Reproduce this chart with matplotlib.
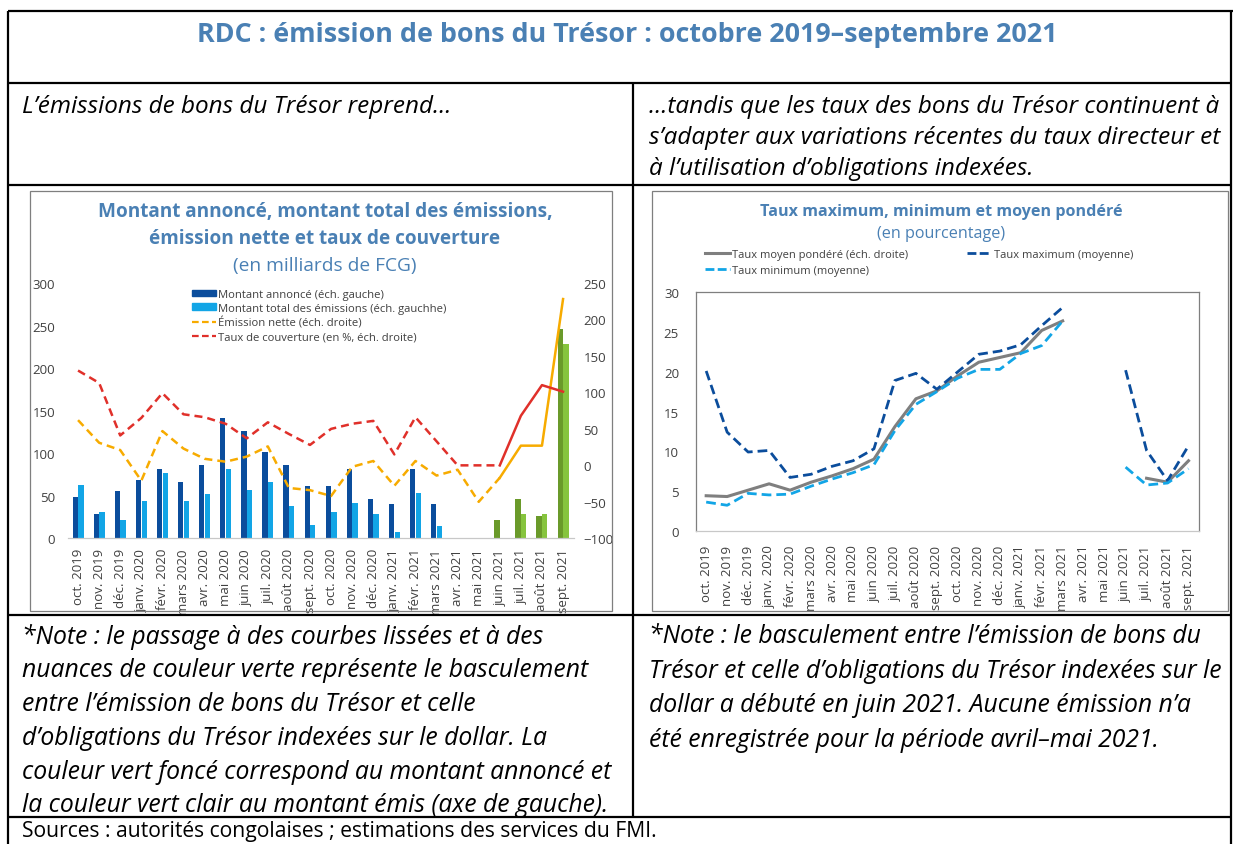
import numpy as np
import matplotlib
matplotlib.use("Agg")
import matplotlib.pyplot as plt
from matplotlib.lines import Line2D
from matplotlib.patches import Patch, Rectangle

plt.rcParams['font.family'] = ['Open Sans', 'DejaVu Sans']

# ---- data ----
months = ["oct. 2019", "nov. 2019", "déc. 2019", "janv. 2020", "févr. 2020", "mars 2020",
          "avr. 2020", "mai 2020", "juin 2020", "juil. 2020", "août 2020", "sept. 2020",
          "oct. 2020", "nov. 2020", "déc. 2020", "janv. 2021", "févr. 2021", "mars 2021",
          "avr. 2021", "mai 2021", "juin 2021", "juil. 2021", "août 2021", "sept. 2021"]

# left chart (milliards de FCG)
montant_annonce = [49, 28, 55, 68, 81, 66, 86, 141, 126, 101, 86, 61,
                   61, 81, 46, 40, 81, 40, np.nan, np.nan, 21, 46, 26, 246]
montant_emis = [63, 31, 21, 44, 77, 44, 52, 82, 57, 66, 38, 16,
                31, 42, 28, 7, 53, 15, np.nan, np.nan, np.nan, 29, 28, 228]
emission_nette = [62, 31, 21, -21, 47, 23, 9, 5, 12, 26, -31, -34,
                  -42, -2, 6, -28, 6, -14, -6, -50, -17, 27, 27, 228]
taux_couverture = [130, 113, 41, 65, 99, 70, 66, 57, 37, 59, 43, 28,
                   50, 57, 61, 15, 66, 33, 0, 0, 0, 68, 110, 101]
idx_switch = 20  # juin 2021: passage aux obligations indexees

# right chart (en pourcentage)
taux_moyen = [4.4, 4.3, 5.1, 5.9, 5.1, 6.1, 6.9, 7.8, 9.0, 13.1, 16.6, 17.6,
              19.5, 21.2, 21.8, 22.4, 25.2, 26.4, np.nan, np.nan, np.nan, 6.6, 6.1, 8.8]
taux_max = [20.1, 12.4, 9.9, 10.1, 6.7, 7.1, 8.1, 8.8, 10.3, 18.9, 19.8, 17.8,
            20.0, 22.2, 22.6, 23.4, 25.8, 28.1, np.nan, np.nan, 20.2, 10.1, 6.3, 10.7]
taux_min = [3.6, 3.2, 4.7, 4.5, 4.6, 5.6, 6.5, 7.3, 8.3, 12.6, 15.9, 17.5,
            19.2, 20.3, 20.3, 22.3, 23.3, 26.4, np.nan, np.nan, 8.0, 5.75, 6.0, 7.8]

# ---- colours ----
BLUE_T = '#4a80b4'
DARK_BLUE = '#0b4d9c'
LIGHT_BLUE = '#12a5e6'
DARK_GREEN = '#6a9a2a'
LIGHT_GREEN = '#86c43e'
ORANGE = '#f7ab00'
RED = '#e0302a'
GREY_TXT = '#404040'

W, H = 1233, 845
fig = plt.figure(figsize=(W / 100, H / 100), dpi=100)


def fx(x):
    return x / W


def fy(y):
    return 1 - y / H


def add_axes_px(l, t, r, b):
    return fig.add_axes([fx(l), fy(b), (r - l) / W, (b - t) / H])


def line_px(xs, ys, lw=1.6, color='black'):
    fig.add_artist(Line2D([fx(x) for x in xs], [fy(y) for y in ys],
                          transform=fig.transFigure, lw=lw, color=color,
                          solid_capstyle='butt'))


# ---- table frame ----
line_px([8, 1233], [12, 12])
line_px([8, 1231], [84, 84])
line_px([8, 1231], [186, 186])
line_px([8, 1231], [616, 616])
line_px([8, 1231], [818, 818])
line_px([8, 8], [12, 845])
line_px([1231, 1231], [12, 845])
line_px([633, 633], [84, 818])

fig.text(fx(627), fy(35), "RDC : émission de bons du Trésor : octobre 2019–septembre 2021",
         ha='center', va='center', fontsize=19.4, fontweight='bold', color=BLUE_T)

fig.text(fx(22), fy(107), "L’émissions de bons du Trésor reprend…",
         ha='left', va='center', fontsize=17.5, style='italic', color='black')
right_intro = ["…tandis que les taux des bons du Trésor continuent à",
               "s’adapter aux variations récentes du taux directeur et",
               "à l’utilisation d’obligations indexées."]
for i, t in enumerate(right_intro):
    fig.text(fx(649), fy(107 + 31 * i), t, ha='left', va='center',
             fontsize=17.5, style='italic', color='black')

left_note = ["*Note : le passage à des courbes lissées et à des",
             "nuances de couleur verte représente le basculement",
             "entre l’émission de bons du Trésor et celle",
             "d’obligations du Trésor indexées sur le dollar. La",
             "couleur vert foncé correspond au montant annoncé et",
             "la couleur vert clair au montant émis (axe de gauche)."]
for i, t in enumerate(left_note):
    fig.text(fx(22), fy(637 + 33.8 * i), t, ha='left', va='center',
             fontsize=17.8, style='italic', color='black')

right_note = ["*Note : le basculement entre l’émission de bons du",
              "Trésor et celle d’obligations du Trésor indexées sur le",
              "dollar a débuté en juin 2021. Aucune émission n’a",
              "été enregistrée pour la période avril–mai 2021."]
for i, t in enumerate(right_note):
    fig.text(fx(649), fy(637 + 34.5 * i), t, ha='left', va='center',
             fontsize=17.8, style='italic', color='black')

fig.text(fx(22), fy(832), "Sources : autorités congolaises ; estimations des services du FMI.",
         ha='left', va='center', fontsize=15.2, color='black')

# chart boxes
for (l, t, r, b) in [(30, 192, 612, 612), (652, 192, 1228, 612)]:
    fig.add_artist(Rectangle((fx(l), fy(b)), (r - l) / W, (b - t) / H,
                             transform=fig.transFigure, fill=False,
                             edgecolor='#7f7f7f', lw=0.9))

x = np.arange(len(months))

# ---- left chart ----
fig.text(fx(325), fy(212), "Montant annoncé, montant total des émissions,",
         ha='center', va='center', fontsize=13.7, fontweight='bold', color=BLUE_T)
fig.text(fx(325), fy(239), "émission nette et taux de couverture",
         ha='center', va='center', fontsize=13.7, fontweight='bold', color=BLUE_T)
fig.text(fx(325), fy(266), "(en milliards de FCG)",
         ha='center', va='center', fontsize=13.8, color=BLUE_T)

axL = add_axes_px(67.5, 284, 573.6, 539.3)
cols_a = [DARK_BLUE if i < idx_switch else DARK_GREEN for i in x]
cols_e = [LIGHT_BLUE if i < idx_switch else LIGHT_GREEN for i in x]
axL.bar(x - 0.135, montant_annonce, width=0.25, color=cols_a)
axL.bar(x + 0.135, montant_emis, width=0.25, color=cols_e)
axL.set_xlim(-0.5, 23.5)
axL.set_ylim(0, 300)
axL.set_yticks(range(0, 301, 50))
axL.set_xticks(x)
axL.set_xticklabels(months, rotation=90, ha='center', va='top')
axL.tick_params(axis='x', length=0, pad=7, labelsize=9.5, labelcolor=GREY_TXT)
axL.tick_params(axis='y', length=0, pad=9, labelsize=9.5, labelcolor=GREY_TXT)
for s in ['top', 'right', 'left']:
    axL.spines[s].set_visible(False)
axL.spines['bottom'].set_color('#c8c8c8')
axL.spines['bottom'].set_linewidth(0.9)

axR = axL.twinx()
k = idx_switch
axR.plot(x[:k + 1], emission_nette[:k + 1], color=ORANGE, lw=1.8, ls=(0, (3.2, 2.0)))
axR.plot(x[k:], emission_nette[k:], color=ORANGE, lw=1.8)
axR.plot(x[:k + 1], taux_couverture[:k + 1], color=RED, lw=1.8, ls=(0, (3.2, 2.0)))
axR.plot(x[k:], taux_couverture[k:], color=RED, lw=1.8)
axR.set_ylim(-100, 250)
axR.set_yticks(range(-100, 251, 50))
axR.tick_params(axis='y', length=0, pad=7, labelsize=9.5, labelcolor=GREY_TXT)
for s in axR.spines.values():
    s.set_visible(False)

leg_handles = [Patch(color=DARK_BLUE), Patch(color=LIGHT_BLUE),
               Line2D([], [], color=ORANGE, lw=1.6, ls=(0, (3, 1.5))),
               Line2D([], [], color=RED, lw=1.6, ls=(0, (3, 1.5)))]
leg_labels = ["Montant annoncé (éch. gauche)",
              "Montant total des émissions (éch. gauchhe)",
              "Émission nette (éch. droite)",
              "Taux de couverture (en %, éch. droite)"]
fig.legend(leg_handles, leg_labels, loc='upper left', bbox_to_anchor=(fx(192), fy(290)),
           frameon=False, fontsize=8.1, handlelength=2.1, handleheight=0.55,
           labelspacing=0.25, handletextpad=0.2, borderpad=0, borderaxespad=0,
           labelcolor=GREY_TXT)

# ---- right chart ----
fig.text(fx(941), fy(212), "Taux maximum, minimum et moyen pondéré",
         ha='center', va='center', fontsize=11.6, fontweight='bold', color=BLUE_T)
fig.text(fx(941), fy(234), "(en pourcentage)",
         ha='center', va='center', fontsize=11.6, color=BLUE_T)

ax2 = add_axes_px(695.7, 293.3, 1199, 531.7)
ax2.plot(x, taux_moyen, color='#7f7f7f', lw=2.2)
ax2.plot(x, taux_max, color='#0b4d9c', lw=2.0, ls=(0, (3.5, 1.8)))
ax2.plot(x, taux_min, color='#12a5e6', lw=2.0, ls=(0, (3.5, 1.8)))
ax2.set_xlim(-0.5, 23.5)
ax2.set_ylim(0, 30)
ax2.set_yticks(range(0, 31, 5))
ax2.set_xticks(x)
ax2.set_xticklabels(months, rotation=90, ha='center', va='top')
ax2.tick_params(axis='x', length=0, pad=10, labelsize=9.5, labelcolor=GREY_TXT)
ax2.tick_params(axis='y', length=0, pad=12, labelsize=9.5, labelcolor=GREY_TXT)
for s in ax2.spines.values():
    s.set_color('#7f7f7f')
    s.set_linewidth(0.9)
ax2.spines['bottom'].set_color('#c8c8c8')

r_handles = [Line2D([], [], color='#7f7f7f', lw=2.2),
             Line2D([], [], color='#12a5e6', lw=2.0, ls=(0, (3.2, 1.2))),
             Line2D([], [], color='#0b4d9c', lw=2.0, ls=(0, (3.2, 1.2)))]
r_labels = ["Taux moyen pondéré (éch. droite)", "Taux minimum (moyenne)",
            "Taux maximum (moyenne)"]
fig.legend(r_handles, r_labels, loc='upper left', bbox_to_anchor=(fx(705), fy(250)),
           ncol=2, frameon=False, fontsize=8.05, handlelength=2.2,
           labelspacing=0.45, handletextpad=0.25, columnspacing=5.2,
           borderpad=0, borderaxespad=0, labelcolor=GREY_TXT)

fig.savefig("out.png", dpi=100)
